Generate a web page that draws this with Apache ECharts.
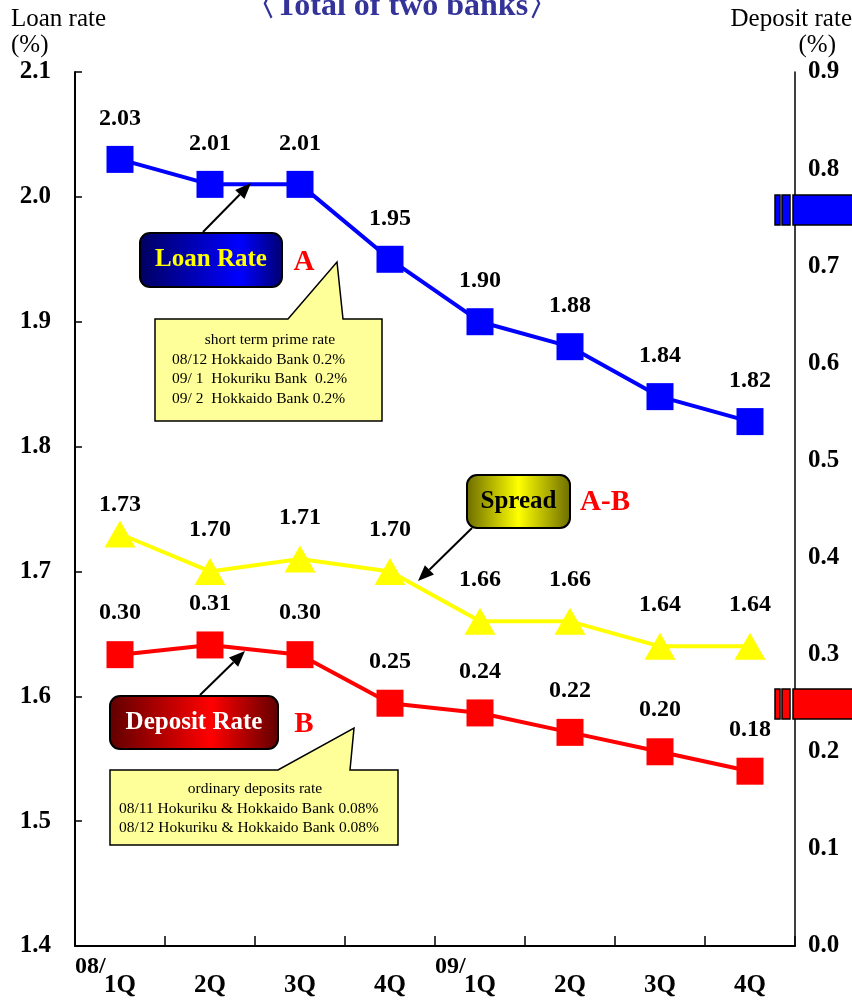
<!DOCTYPE html>
<html>
<head>
<meta charset="utf-8">
<script src="https://cdn.jsdelivr.net/npm/echarts@6/dist/echarts.min.js"></script>
<style>html,body{margin:0;padding:0;background:#fff}#c{width:852px;height:1000px}</style>
</head>
<body>
<div id="c"></div>
<script>
const categories = ['1Q', '2Q', '3Q', '4Q', '1Q', '2Q', '3Q', '4Q'];
const yearLabels = ['08/', '', '', '', '09/', '', '', ''];
const loanRate = [2.03, 2.01, 2.01, 1.95, 1.90, 1.88, 1.84, 1.82];
const spread = [1.73, 1.70, 1.71, 1.70, 1.66, 1.66, 1.64, 1.64];
const depositRate = [0.30, 0.31, 0.30, 0.25, 0.24, 0.22, 0.20, 0.18];
const titleText = '〈Total of two banks〉';
const loanNote = ['short term prime rate', '08/12 Hokkaido Bank 0.2%', '09/ 1  Hokuriku Bank  0.2%', '09/ 2  Hokkaido Bank 0.2%'];
const depositNote = ['ordinary deposits rate', '08/11 Hokuriku & Hokkaido Bank 0.08%', '08/12 Hokuriku & Hokkaido Bank 0.08%'];

const FF = "'Liberation Serif', 'Times New Roman', serif";
const chart = echarts.init(document.getElementById('c'), null, {renderer: 'canvas'});

function valueLabel(dist) {
  return {show: true, position: 'top', distance: dist, color: '#000', fontFamily: FF,
    fontWeight: 'bold', fontSize: 24, formatter: p => p.value.toFixed(2)};
}

function arrow(x1, y1, x2, y2) {
  const a = Math.atan2(y2 - y1, x2 - x1), L = 16, W = 6.5;
  const bx = x2 - L * Math.cos(a), by = y2 - L * Math.sin(a);
  const nx = -Math.sin(a), ny = Math.cos(a);
  return [
    {type: 'line', z: 100, shape: {x1: x1, y1: y1, x2: bx, y2: by}, style: {stroke: '#000', lineWidth: 2}},
    {type: 'polygon', z: 100, shape: {points: [[x2, y2], [bx + nx * W, by + ny * W], [bx - nx * W, by - ny * W]]}, style: {fill: '#000'}}
  ];
}

function labelBox(x, y, w, h, stops, text, color) {
  return [
    {type: 'rect', z: 100, shape: {x: x, y: y, width: w, height: h, r: 10},
      style: {fill: new echarts.graphic.LinearGradient(0, 0, 1, 0, stops), stroke: '#000', lineWidth: 2}},
    {type: 'text', z: 101, x: x + w / 2, y: y + h / 2,
      style: {text: text, fill: color, font: 'bold 25px ' + FF, align: 'center', verticalAlign: 'middle'}}
  ];
}

function callout(points, lines, cx, lx, y0, dy) {
  const els = [{type: 'polygon', z: 90, shape: {points: points}, style: {fill: '#FFFF99', stroke: '#000', lineWidth: 1.5}}];
  lines.forEach((t, i) => {
    els.push({type: 'text', z: 91, x: i === 0 ? cx : lx, y: y0 + i * dy,
      style: {text: t, fill: '#000', font: '15.5px ' + FF, align: i === 0 ? 'center' : 'left', verticalAlign: 'middle'}});
  });
  return els;
}

function breakMark(y, color) {
  const h = 30;
  return [
    {type: 'rect', z: 100, shape: {x: 775, y: y, width: 5, height: h}, style: {fill: color, stroke: '#000', lineWidth: 1.5}},
    {type: 'rect', z: 100, shape: {x: 782, y: y, width: 8, height: h}, style: {fill: color, stroke: '#000', lineWidth: 1.5}},
    {type: 'rect', z: 100, shape: {x: 793, y: y, width: 70, height: h}, style: {fill: color, stroke: '#000', lineWidth: 1.5}}
  ];
}

const option = {
  animation: false,
  backgroundColor: '#fff',
  grid: {left: 75, right: 57, top: 72, bottom: 54},
  xAxis: {
    type: 'category', data: categories, boundaryGap: true,
    axisLine: {show: true, lineStyle: {color: '#000', width: 2}},
    axisTick: {show: true, inside: true, length: 10, lineStyle: {color: '#000', width: 1.5}},
    axisLabel: {color: '#000', fontFamily: FF, fontWeight: 'bold', fontSize: 25, margin: 27},
    splitLine: {show: false}
  },
  yAxis: [
    {type: 'value', position: 'left', min: 1.4, max: 2.1, interval: 0.1,
      axisLine: {show: true, lineStyle: {color: '#000', width: 2}},
      axisTick: {show: true, inside: true, length: 7, lineStyle: {color: '#000', width: 1.5}},
      axisLabel: {color: '#000', fontFamily: FF, fontWeight: 'bold', fontSize: 25, margin: 24, formatter: v => v.toFixed(1)},
      splitLine: {show: false}},
    {type: 'value', position: 'right', min: 0, max: 0.9, interval: 0.1,
      axisLine: {show: true, lineStyle: {color: '#000', width: 1.5}},
      axisTick: {show: false},
      axisLabel: {color: '#000', fontFamily: FF, fontWeight: 'bold', fontSize: 25, margin: 13, formatter: v => v.toFixed(1)},
      splitLine: {show: false}}
  ],
  series: [
    {name: 'Loan Rate', type: 'line', yAxisIndex: 0, data: loanRate, symbol: 'rect', symbolSize: 27,
      itemStyle: {color: '#0000FF'}, lineStyle: {color: '#0000FF', width: 4}, label: valueLabel(15), z: 3},
    {name: 'Spread', type: 'line', yAxisIndex: 0,
      data: spread.map((v, i) => i === 0 ? {value: v, label: {distance: 4}} : v),
      symbol: 'triangle', symbolSize: [31, 27],
      itemStyle: {color: '#FFFF00'}, lineStyle: {color: '#FFFF00', width: 4}, label: valueLabel(16), z: 3},
    {name: 'Deposit Rate', type: 'line', yAxisIndex: 1, data: depositRate, symbol: 'rect', symbolSize: 27,
      itemStyle: {color: '#FF0000'}, lineStyle: {color: '#FF0000', width: 4}, label: valueLabel(16), z: 3}
  ]
};
chart.setOption(option);

const half = (chart.convertToPixel({xAxisIndex: 0}, 1) - chart.convertToPixel({xAxisIndex: 0}, 0)) / 2;
const graphics = [
  {type: 'text', z: 100, x: 402, y: 7, style: {text: titleText, fill: '#333399', font: 'bold 32px ' + FF, align: 'center', verticalAlign: 'middle'}},
  {type: 'text', z: 100, x: 11, y: 19, style: {text: 'Loan rate', fill: '#000', font: '25px ' + FF, align: 'left', verticalAlign: 'middle'}},
  {type: 'text', z: 100, x: 11, y: 45, style: {text: '(%)', fill: '#000', font: '25px ' + FF, align: 'left', verticalAlign: 'middle'}},
  {type: 'text', z: 100, x: 852, y: 19, style: {text: 'Deposit rate', fill: '#000', font: '25px ' + FF, align: 'right', verticalAlign: 'middle'}},
  {type: 'text', z: 100, x: 836, y: 45, style: {text: '(%)', fill: '#000', font: '25px ' + FF, align: 'right', verticalAlign: 'middle'}}
];
yearLabels.forEach((t, i) => {
  if (!t) return;
  const x = chart.convertToPixel({xAxisIndex: 0}, i) - half;
  graphics.push({type: 'text', z: 100, x: x, y: 967, style: {text: t, fill: '#000', font: 'bold 24px ' + FF, align: 'left', verticalAlign: 'middle'}});
});
graphics.push(
  ...labelBox(140, 233, 142, 54, [{offset: 0, color: '#000060'}, {offset: 0.7, color: '#0000FF'}, {offset: 1, color: '#000070'}], 'Loan Rate', '#FFFF00'),
  ...labelBox(467, 475, 103, 53, [{offset: 0, color: '#6b6b00'}, {offset: 0.5, color: '#FFFF00'}, {offset: 1, color: '#6b6b00'}], 'Spread', '#000'),
  ...labelBox(110, 696, 168, 53, [{offset: 0, color: '#600000'}, {offset: 0.6, color: '#FF0000'}, {offset: 1, color: '#600000'}], 'Deposit Rate', '#FFFFFF'),
  {type: 'text', z: 100, x: 304, y: 263, style: {text: 'A', fill: '#FF0000', font: 'bold 29px ' + FF, align: 'center', verticalAlign: 'middle'}},
  {type: 'text', z: 100, x: 605, y: 503, style: {text: 'A-B', fill: '#FF0000', font: 'bold 29px ' + FF, align: 'center', verticalAlign: 'middle'}},
  {type: 'text', z: 100, x: 304, y: 725, style: {text: 'B', fill: '#FF0000', font: 'bold 29px ' + FF, align: 'center', verticalAlign: 'middle'}},
  ...arrow(203, 232, 251, 183),
  ...arrow(472, 528, 418, 581),
  ...arrow(200, 695, 245, 651),
  ...callout([[155, 319], [288, 319], [337, 262], [343, 319], [382, 319], [382, 421], [155, 421]], loanNote, 270, 172, 340, 19.5),
  ...callout([[110, 770], [278, 770], [354, 728], [350, 770], [398, 770], [398, 845], [110, 845]], depositNote, 255, 119, 789, 19.5),
  ...breakMark(195, '#0000FF'),
  ...breakMark(689, '#FF0000')
);
chart.setOption({graphic: {elements: graphics}});
</script>
</body>
</html>
